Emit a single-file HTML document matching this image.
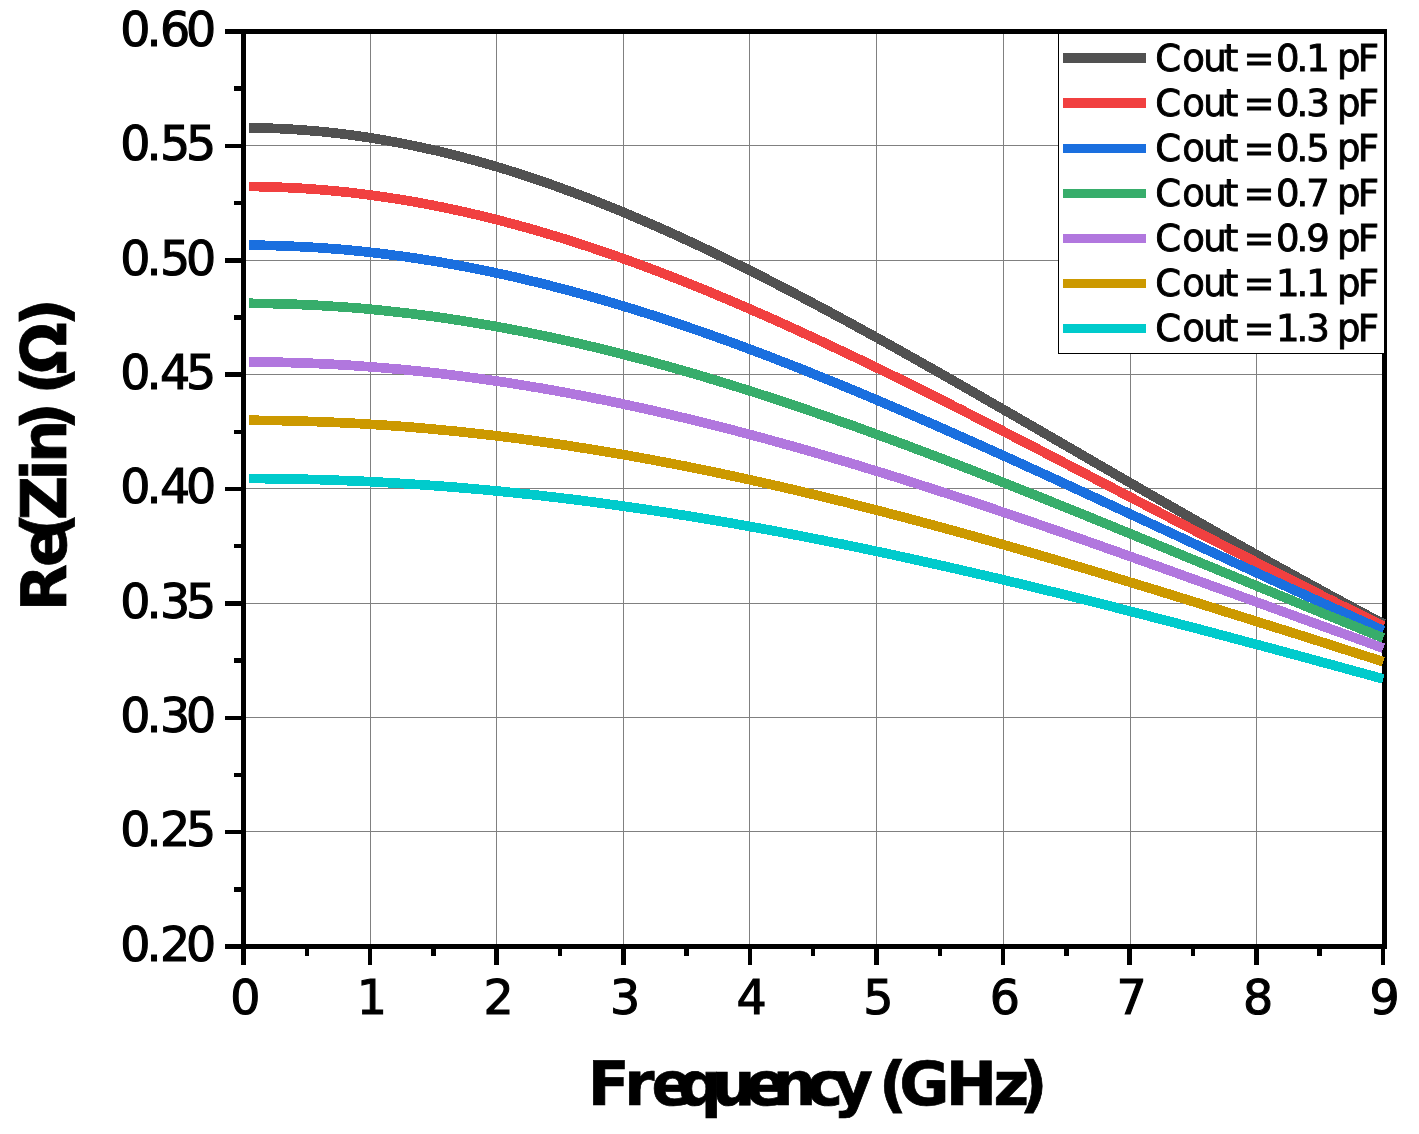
<!DOCTYPE html>
<html lang="en"><head><meta charset="utf-8"><title>Re(Zin) vs Frequency</title>
<style>html,body{margin:0;padding:0;background:#fff}body{width:1419px;height:1134px;overflow:hidden}svg{display:block}text{font-family:"DejaVu Sans","Liberation Sans",sans-serif;fill:#000;stroke:#000;stroke-linejoin:miter}.tk{font-size:47.5px;stroke-width:1.1}.lg{font-size:37.0px;stroke-width:0.9}.lb{font-size:61.2px;font-weight:bold;stroke-width:0.7}</style></head><body>
<svg width="1419" height="1134" viewBox="0 0 1419 1134">
<rect width="1419" height="1134" fill="#fff"/>
<g fill="#808080" shape-rendering="crispEdges">
<rect x="370" y="34" width="1" height="910"/>
<rect x="496" y="34" width="1" height="910"/>
<rect x="623" y="34" width="1" height="910"/>
<rect x="749" y="34" width="1" height="910"/>
<rect x="876" y="34" width="1" height="910"/>
<rect x="1003" y="34" width="1" height="910"/>
<rect x="1130" y="34" width="1" height="910"/>
<rect x="1256" y="34" width="1" height="910"/>
<rect x="246" y="145" width="1136" height="1"/>
<rect x="246" y="260" width="1136" height="1"/>
<rect x="246" y="374" width="1136" height="1"/>
<rect x="246" y="488" width="1136" height="1"/>
<rect x="246" y="603" width="1136" height="1"/>
<rect x="246" y="717" width="1136" height="1"/>
<rect x="246" y="831" width="1136" height="1"/>
</g>
<g fill="#000" shape-rendering="crispEdges">
<rect x="241" y="29" width="1146" height="5"/><rect x="241" y="944" width="1146" height="5"/>
<rect x="241" y="29" width="5" height="920"/><rect x="1382" y="29" width="5" height="920"/>
</g>
<g stroke="#000" stroke-width="4.5" fill="none" shape-rendering="crispEdges">
<path d="M225 31.50H242M234 88.69H242M225 145.88H242M234 203.06H242M225 260.25H242M234 317.44H242M225 374.62H242M234 431.81H242M225 489.00H242M234 546.19H242M225 603.38H242M234 660.56H242M225 717.75H242M234 774.94H242M225 832.12H242M234 889.31H242M225 946.50H242M243.50 948V965M306.80 948V956M370.10 948V965M433.40 948V956M496.70 948V965M560.00 948V956M623.30 948V965M686.60 948V956M749.90 948V965M813.20 948V956M876.50 948V965M939.80 948V956M1003.10 948V965M1066.40 948V956M1129.70 948V965M1193.00 948V956M1256.30 948V965M1319.60 948V956M1382.90 948V965"/>
</g>
<g fill="none" stroke-width="9.7" stroke-linecap="butt" stroke-linejoin="round" shape-rendering="crispEdges">
<polyline stroke="#515151" points="249.0,127.8 255.3,127.9 261.6,128.0 267.9,128.2 274.2,128.4 280.5,128.7 286.8,129.0 293.1,129.4 299.4,129.8 305.7,130.3 312.0,130.8 318.3,131.3 324.6,131.9 330.9,132.6 337.2,133.3 343.5,134.1 349.8,134.9 356.1,135.7 362.4,136.6 368.7,137.6 375.0,138.6 381.3,139.6 387.6,140.7 393.9,141.9 400.2,143.0 406.5,144.3 412.8,145.6 419.1,146.9 425.4,148.3 431.8,149.7 438.1,151.1 444.4,152.6 450.7,154.2 457.0,155.8 463.3,157.4 469.6,159.1 475.9,160.8 482.2,162.6 488.5,164.4 494.8,166.2 501.1,168.1 507.4,170.0 513.7,172.0 520.0,174.0 526.3,176.1 532.6,178.2 538.9,180.3 545.2,182.4 551.5,184.6 557.8,186.9 564.1,189.2 570.4,191.5 576.7,193.8 583.0,196.2 589.3,198.6 595.6,201.1 601.9,203.6 608.2,206.1 614.5,208.6 620.8,211.2 627.1,213.8 633.4,216.5 639.7,219.2 646.0,221.9 652.3,224.6 658.6,227.4 664.9,230.2 671.2,233.0 677.5,235.9 683.8,238.8 690.1,241.7 696.4,244.6 702.7,247.6 709.0,250.6 715.3,253.6 721.6,256.6 727.9,259.7 734.2,262.8 740.5,265.9 746.8,269.0 753.1,272.2 759.4,275.3 765.7,278.5 772.0,281.7 778.3,285.0 784.6,288.2 790.9,291.5 797.2,294.8 803.5,298.1 809.8,301.4 816.1,304.8 822.4,308.1 828.7,311.5 835.0,314.9 841.3,318.3 847.7,321.7 854.0,325.2 860.3,328.6 866.6,332.1 872.9,335.5 879.2,339.0 885.5,342.5 891.8,346.0 898.1,349.5 904.4,353.1 910.7,356.6 917.0,360.1 923.3,363.7 929.6,367.3 935.9,370.8 942.2,374.4 948.5,378.0 954.8,381.6 961.1,385.2 967.4,388.8 973.7,392.4 980.0,396.0 986.3,399.7 992.6,403.3 998.9,406.9 1005.2,410.5 1011.5,414.2 1017.8,417.8 1024.1,421.5 1030.4,425.1 1036.7,428.7 1043.0,432.4 1049.3,436.0 1055.6,439.7 1061.9,443.3 1068.2,447.0 1074.5,450.6 1080.8,454.3 1087.1,457.9 1093.4,461.6 1099.7,465.2 1106.0,468.9 1112.3,472.5 1118.6,476.2 1124.9,479.8 1131.2,483.4 1137.5,487.1 1143.8,490.7 1150.1,494.3 1156.4,497.9 1162.7,501.5 1169.0,505.2 1175.3,508.8 1181.6,512.4 1187.9,516.0 1194.2,519.6 1200.5,523.1 1206.8,526.7 1213.1,530.3 1219.4,533.9 1225.7,537.4 1232.0,541.0 1238.3,544.5 1244.6,548.1 1250.9,551.6 1257.2,555.1 1263.6,558.6 1269.9,562.2 1276.2,565.7 1282.5,569.2 1288.8,572.6 1295.1,576.1 1301.4,579.6 1307.7,583.0 1314.0,586.5 1320.3,589.9 1326.6,593.4 1332.9,596.8 1339.2,600.2 1345.5,603.6 1351.8,607.0 1358.1,610.4 1364.4,613.8 1370.7,617.1 1377.0,620.5 1383.3,623.8"/>
<polyline stroke="#F14040" points="249.0,186.6 255.3,186.6 261.6,186.7 267.9,186.9 274.2,187.1 280.5,187.3 286.8,187.6 293.1,187.9 299.4,188.2 305.7,188.6 312.0,189.1 318.3,189.5 324.6,190.1 330.9,190.6 337.2,191.2 343.5,191.9 349.8,192.5 356.1,193.3 362.4,194.0 368.7,194.8 375.0,195.7 381.3,196.6 387.6,197.5 393.9,198.5 400.2,199.5 406.5,200.5 412.8,201.6 419.1,202.7 425.4,203.9 431.8,205.1 438.1,206.4 444.4,207.6 450.7,209.0 457.0,210.3 463.3,211.7 469.6,213.1 475.9,214.6 482.2,216.1 488.5,217.6 494.8,219.2 501.1,220.8 507.4,222.5 513.7,224.2 520.0,225.9 526.3,227.6 532.6,229.4 538.9,231.2 545.2,233.1 551.5,235.0 557.8,236.9 564.1,238.8 570.4,240.8 576.7,242.8 583.0,244.9 589.3,246.9 595.6,249.1 601.9,251.2 608.2,253.4 614.5,255.5 620.8,257.8 627.1,260.0 633.4,262.3 639.7,264.6 646.0,267.0 652.3,269.3 658.6,271.7 664.9,274.1 671.2,276.6 677.5,279.0 683.8,281.5 690.1,284.0 696.4,286.6 702.7,289.1 709.0,291.7 715.3,294.3 721.6,297.0 727.9,299.6 734.2,302.3 740.5,305.0 746.8,307.7 753.1,310.5 759.4,313.2 765.7,316.0 772.0,318.8 778.3,321.6 784.6,324.5 790.9,327.3 797.2,330.2 803.5,333.1 809.8,336.0 816.1,338.9 822.4,341.8 828.7,344.8 835.0,347.8 841.3,350.8 847.7,353.8 854.0,356.8 860.3,359.8 866.6,362.8 872.9,365.9 879.2,368.9 885.5,372.0 891.8,375.1 898.1,378.2 904.4,381.3 910.7,384.4 917.0,387.6 923.3,390.7 929.6,393.9 935.9,397.0 942.2,400.2 948.5,403.4 954.8,406.6 961.1,409.7 967.4,412.9 973.7,416.2 980.0,419.4 986.3,422.6 992.6,425.8 998.9,429.0 1005.2,432.3 1011.5,435.5 1017.8,438.8 1024.1,442.0 1030.4,445.3 1036.7,448.5 1043.0,451.8 1049.3,455.1 1055.6,458.3 1061.9,461.6 1068.2,464.9 1074.5,468.2 1080.8,471.4 1087.1,474.7 1093.4,478.0 1099.7,481.3 1106.0,484.6 1112.3,487.8 1118.6,491.1 1124.9,494.4 1131.2,497.7 1137.5,501.0 1143.8,504.2 1150.1,507.5 1156.4,510.8 1162.7,514.1 1169.0,517.3 1175.3,520.6 1181.6,523.9 1187.9,527.1 1194.2,530.4 1200.5,533.7 1206.8,536.9 1213.1,540.2 1219.4,543.4 1225.7,546.7 1232.0,549.9 1238.3,553.2 1244.6,556.4 1250.9,559.6 1257.2,562.8 1263.6,566.1 1269.9,569.3 1276.2,572.5 1282.5,575.7 1288.8,578.9 1295.1,582.1 1301.4,585.3 1307.7,588.5 1314.0,591.6 1320.3,594.8 1326.6,598.0 1332.9,601.1 1339.2,604.3 1345.5,607.4 1351.8,610.5 1358.1,613.7 1364.4,616.8 1370.7,619.9 1377.0,623.0 1383.3,626.1"/>
<polyline stroke="#1A6FDF" points="249.0,245.2 255.3,245.2 261.6,245.3 267.9,245.4 274.2,245.6 280.5,245.8 286.8,246.0 293.1,246.3 299.4,246.6 305.7,246.9 312.0,247.3 318.3,247.7 324.6,248.1 330.9,248.6 337.2,249.1 343.5,249.6 349.8,250.2 356.1,250.8 362.4,251.4 368.7,252.1 375.0,252.8 381.3,253.6 387.6,254.4 393.9,255.2 400.2,256.0 406.5,256.9 412.8,257.8 419.1,258.8 425.4,259.8 431.8,260.8 438.1,261.8 444.4,262.9 450.7,264.0 457.0,265.1 463.3,266.3 469.6,267.5 475.9,268.8 482.2,270.0 488.5,271.3 494.8,272.7 501.1,274.0 507.4,275.4 513.7,276.8 520.0,278.3 526.3,279.8 532.6,281.3 538.9,282.8 545.2,284.4 551.5,286.0 557.8,287.6 564.1,289.3 570.4,290.9 576.7,292.7 583.0,294.4 589.3,296.2 595.6,297.9 601.9,299.8 608.2,301.6 614.5,303.5 620.8,305.4 627.1,307.3 633.4,309.2 639.7,311.2 646.0,313.2 652.3,315.2 658.6,317.2 664.9,319.3 671.2,321.4 677.5,323.5 683.8,325.6 690.1,327.8 696.4,330.0 702.7,332.1 709.0,334.4 715.3,336.6 721.6,338.9 727.9,341.1 734.2,343.4 740.5,345.8 746.8,348.1 753.1,350.4 759.4,352.8 765.7,355.2 772.0,357.6 778.3,360.1 784.6,362.5 790.9,365.0 797.2,367.4 803.5,369.9 809.8,372.4 816.1,375.0 822.4,377.5 828.7,380.1 835.0,382.6 841.3,385.2 847.7,387.8 854.0,390.4 860.3,393.1 866.6,395.7 872.9,398.4 879.2,401.0 885.5,403.7 891.8,406.4 898.1,409.1 904.4,411.8 910.7,414.5 917.0,417.3 923.3,420.0 929.6,422.8 935.9,425.5 942.2,428.3 948.5,431.1 954.8,433.9 961.1,436.7 967.4,439.5 973.7,442.3 980.0,445.1 986.3,448.0 992.6,450.8 998.9,453.6 1005.2,456.5 1011.5,459.3 1017.8,462.2 1024.1,465.1 1030.4,468.0 1036.7,470.8 1043.0,473.7 1049.3,476.6 1055.6,479.5 1061.9,482.4 1068.2,485.3 1074.5,488.2 1080.8,491.1 1087.1,494.0 1093.4,496.9 1099.7,499.9 1106.0,502.8 1112.3,505.7 1118.6,508.6 1124.9,511.6 1131.2,514.5 1137.5,517.4 1143.8,520.3 1150.1,523.3 1156.4,526.2 1162.7,529.1 1169.0,532.1 1175.3,535.0 1181.6,537.9 1187.9,540.9 1194.2,543.8 1200.5,546.7 1206.8,549.7 1213.1,552.6 1219.4,555.5 1225.7,558.4 1232.0,561.4 1238.3,564.3 1244.6,567.2 1250.9,570.1 1257.2,573.0 1263.6,576.0 1269.9,578.9 1276.2,581.8 1282.5,584.7 1288.8,587.6 1295.1,590.5 1301.4,593.4 1307.7,596.3 1314.0,599.2 1320.3,602.0 1326.6,604.9 1332.9,607.8 1339.2,610.7 1345.5,613.5 1351.8,616.4 1358.1,619.2 1364.4,622.1 1370.7,624.9 1377.0,627.8 1383.3,630.6"/>
<polyline stroke="#37AD6B" points="249.0,303.3 255.3,303.4 261.6,303.4 267.9,303.5 274.2,303.7 280.5,303.8 286.8,304.0 293.1,304.2 299.4,304.5 305.7,304.8 312.0,305.1 318.3,305.4 324.6,305.8 330.9,306.2 337.2,306.6 343.5,307.0 349.8,307.5 356.1,308.0 362.4,308.5 368.7,309.1 375.0,309.7 381.3,310.3 387.6,311.0 393.9,311.7 400.2,312.4 406.5,313.1 412.8,313.9 419.1,314.7 425.4,315.5 431.8,316.3 438.1,317.2 444.4,318.1 450.7,319.0 457.0,320.0 463.3,321.0 469.6,322.0 475.9,323.0 482.2,324.1 488.5,325.2 494.8,326.3 501.1,327.4 507.4,328.6 513.7,329.8 520.0,331.0 526.3,332.2 532.6,333.5 538.9,334.8 545.2,336.1 551.5,337.4 557.8,338.8 564.1,340.2 570.4,341.6 576.7,343.0 583.0,344.5 589.3,346.0 595.6,347.5 601.9,349.0 608.2,350.6 614.5,352.1 620.8,353.7 627.1,355.4 633.4,357.0 639.7,358.7 646.0,360.3 652.3,362.0 658.6,363.8 664.9,365.5 671.2,367.3 677.5,369.1 683.8,370.9 690.1,372.7 696.4,374.5 702.7,376.4 709.0,378.3 715.3,380.2 721.6,382.1 727.9,384.0 734.2,386.0 740.5,388.0 746.8,389.9 753.1,391.9 759.4,394.0 765.7,396.0 772.0,398.1 778.3,400.1 784.6,402.2 790.9,404.3 797.2,406.4 803.5,408.6 809.8,410.7 816.1,412.9 822.4,415.1 828.7,417.3 835.0,419.5 841.3,421.7 847.7,423.9 854.0,426.1 860.3,428.4 866.6,430.7 872.9,433.0 879.2,435.3 885.5,437.6 891.8,439.9 898.1,442.2 904.4,444.5 910.7,446.9 917.0,449.3 923.3,451.6 929.6,454.0 935.9,456.4 942.2,458.8 948.5,461.2 954.8,463.6 961.1,466.1 967.4,468.5 973.7,470.9 980.0,473.4 986.3,475.9 992.6,478.3 998.9,480.8 1005.2,483.3 1011.5,485.8 1017.8,488.3 1024.1,490.8 1030.4,493.3 1036.7,495.8 1043.0,498.3 1049.3,500.8 1055.6,503.4 1061.9,505.9 1068.2,508.5 1074.5,511.0 1080.8,513.6 1087.1,516.1 1093.4,518.7 1099.7,521.3 1106.0,523.8 1112.3,526.4 1118.6,529.0 1124.9,531.6 1131.2,534.1 1137.5,536.7 1143.8,539.3 1150.1,541.9 1156.4,544.5 1162.7,547.1 1169.0,549.7 1175.3,552.3 1181.6,554.9 1187.9,557.5 1194.2,560.1 1200.5,562.7 1206.8,565.3 1213.1,567.9 1219.4,570.5 1225.7,573.1 1232.0,575.7 1238.3,578.3 1244.6,580.9 1250.9,583.6 1257.2,586.2 1263.6,588.8 1269.9,591.4 1276.2,594.0 1282.5,596.6 1288.8,599.2 1295.1,601.8 1301.4,604.4 1307.7,607.0 1314.0,609.6 1320.3,612.2 1326.6,614.8 1332.9,617.3 1339.2,619.9 1345.5,622.5 1351.8,625.1 1358.1,627.7 1364.4,630.3 1370.7,632.8 1377.0,635.4 1383.3,638.0"/>
<polyline stroke="#B177DE" points="249.0,361.9 255.3,361.9 261.6,362.0 267.9,362.1 274.2,362.2 280.5,362.3 286.8,362.5 293.1,362.7 299.4,362.9 305.7,363.1 312.0,363.3 318.3,363.6 324.6,363.9 330.9,364.2 337.2,364.6 343.5,364.9 349.8,365.3 356.1,365.8 362.4,366.2 368.7,366.7 375.0,367.2 381.3,367.7 387.6,368.2 393.9,368.8 400.2,369.3 406.5,369.9 412.8,370.6 419.1,371.2 425.4,371.9 431.8,372.6 438.1,373.3 444.4,374.1 450.7,374.8 457.0,375.6 463.3,376.4 469.6,377.3 475.9,378.1 482.2,379.0 488.5,379.9 494.8,380.8 501.1,381.7 507.4,382.7 513.7,383.7 520.0,384.7 526.3,385.7 532.6,386.8 538.9,387.8 545.2,388.9 551.5,390.0 557.8,391.2 564.1,392.3 570.4,393.5 576.7,394.7 583.0,395.9 589.3,397.1 595.6,398.4 601.9,399.6 608.2,400.9 614.5,402.2 620.8,403.5 627.1,404.9 633.4,406.3 639.7,407.6 646.0,409.0 652.3,410.4 658.6,411.9 664.9,413.3 671.2,414.8 677.5,416.3 683.8,417.8 690.1,419.3 696.4,420.9 702.7,422.4 709.0,424.0 715.3,425.6 721.6,427.2 727.9,428.8 734.2,430.4 740.5,432.1 746.8,433.8 753.1,435.4 759.4,437.1 765.7,438.8 772.0,440.6 778.3,442.3 784.6,444.1 790.9,445.8 797.2,447.6 803.5,449.4 809.8,451.2 816.1,453.0 822.4,454.9 828.7,456.7 835.0,458.6 841.3,460.5 847.7,462.3 854.0,464.2 860.3,466.1 866.6,468.1 872.9,470.0 879.2,471.9 885.5,473.9 891.8,475.9 898.1,477.8 904.4,479.8 910.7,481.8 917.0,483.8 923.3,485.9 929.6,487.9 935.9,489.9 942.2,492.0 948.5,494.0 954.8,496.1 961.1,498.2 967.4,500.2 973.7,502.3 980.0,504.4 986.3,506.5 992.6,508.6 998.9,510.8 1005.2,512.9 1011.5,515.0 1017.8,517.2 1024.1,519.3 1030.4,521.5 1036.7,523.7 1043.0,525.8 1049.3,528.0 1055.6,530.2 1061.9,532.4 1068.2,534.6 1074.5,536.8 1080.8,539.0 1087.1,541.2 1093.4,543.4 1099.7,545.6 1106.0,547.9 1112.3,550.1 1118.6,552.3 1124.9,554.6 1131.2,556.8 1137.5,559.1 1143.8,561.3 1150.1,563.6 1156.4,565.8 1162.7,568.1 1169.0,570.3 1175.3,572.6 1181.6,574.9 1187.9,577.2 1194.2,579.4 1200.5,581.7 1206.8,584.0 1213.1,586.3 1219.4,588.6 1225.7,590.8 1232.0,593.1 1238.3,595.4 1244.6,597.7 1250.9,600.0 1257.2,602.3 1263.6,604.6 1269.9,606.9 1276.2,609.2 1282.5,611.5 1288.8,613.8 1295.1,616.1 1301.4,618.4 1307.7,620.7 1314.0,623.0 1320.3,625.3 1326.6,627.6 1332.9,629.9 1339.2,632.1 1345.5,634.4 1351.8,636.7 1358.1,639.0 1364.4,641.3 1370.7,643.6 1377.0,645.9 1383.3,648.2"/>
<polyline stroke="#CC9900" points="249.0,420.3 255.3,420.3 261.6,420.4 267.9,420.5 274.2,420.5 280.5,420.6 286.8,420.8 293.1,420.9 299.4,421.1 305.7,421.3 312.0,421.5 318.3,421.7 324.6,421.9 330.9,422.2 337.2,422.5 343.5,422.8 349.8,423.1 356.1,423.4 362.4,423.8 368.7,424.2 375.0,424.6 381.3,425.0 387.6,425.4 393.9,425.9 400.2,426.3 406.5,426.8 412.8,427.3 419.1,427.9 425.4,428.4 431.8,429.0 438.1,429.6 444.4,430.2 450.7,430.8 457.0,431.4 463.3,432.1 469.6,432.8 475.9,433.5 482.2,434.2 488.5,434.9 494.8,435.6 501.1,436.4 507.4,437.2 513.7,438.0 520.0,438.8 526.3,439.7 532.6,440.5 538.9,441.4 545.2,442.3 551.5,443.2 557.8,444.1 564.1,445.0 570.4,446.0 576.7,447.0 583.0,448.0 589.3,449.0 595.6,450.0 601.9,451.0 608.2,452.1 614.5,453.1 620.8,454.2 627.1,455.3 633.4,456.5 639.7,457.6 646.0,458.7 652.3,459.9 658.6,461.1 664.9,462.3 671.2,463.5 677.5,464.7 683.8,465.9 690.1,467.2 696.4,468.5 702.7,469.7 709.0,471.0 715.3,472.3 721.6,473.7 727.9,475.0 734.2,476.4 740.5,477.7 746.8,479.1 753.1,480.5 759.4,481.9 765.7,483.3 772.0,484.7 778.3,486.2 784.6,487.6 790.9,489.1 797.2,490.6 803.5,492.1 809.8,493.6 816.1,495.1 822.4,496.6 828.7,498.1 835.0,499.7 841.3,501.2 847.7,502.8 854.0,504.4 860.3,506.0 866.6,507.6 872.9,509.2 879.2,510.8 885.5,512.5 891.8,514.1 898.1,515.7 904.4,517.4 910.7,519.1 917.0,520.8 923.3,522.5 929.6,524.2 935.9,525.9 942.2,527.6 948.5,529.3 954.8,531.0 961.1,532.8 967.4,534.5 973.7,536.3 980.0,538.1 986.3,539.8 992.6,541.6 998.9,543.4 1005.2,545.2 1011.5,547.0 1017.8,548.8 1024.1,550.7 1030.4,552.5 1036.7,554.3 1043.0,556.2 1049.3,558.0 1055.6,559.9 1061.9,561.7 1068.2,563.6 1074.5,565.5 1080.8,567.3 1087.1,569.2 1093.4,571.1 1099.7,573.0 1106.0,574.9 1112.3,576.8 1118.6,578.7 1124.9,580.6 1131.2,582.5 1137.5,584.5 1143.8,586.4 1150.1,588.3 1156.4,590.2 1162.7,592.2 1169.0,594.1 1175.3,596.1 1181.6,598.0 1187.9,600.0 1194.2,601.9 1200.5,603.9 1206.8,605.9 1213.1,607.8 1219.4,609.8 1225.7,611.8 1232.0,613.8 1238.3,615.7 1244.6,617.7 1250.9,619.7 1257.2,621.7 1263.6,623.7 1269.9,625.7 1276.2,627.7 1282.5,629.6 1288.8,631.6 1295.1,633.6 1301.4,635.6 1307.7,637.6 1314.0,639.6 1320.3,641.6 1326.6,643.6 1332.9,645.6 1339.2,647.7 1345.5,649.7 1351.8,651.7 1358.1,653.7 1364.4,655.7 1370.7,657.7 1377.0,659.7 1383.3,661.7"/>
<polyline stroke="#00CBCC" points="249.0,478.5 255.3,478.6 261.6,478.6 267.9,478.7 274.2,478.7 280.5,478.8 286.8,478.9 293.1,479.0 299.4,479.2 305.7,479.3 312.0,479.5 318.3,479.6 324.6,479.8 330.9,480.0 337.2,480.3 343.5,480.5 349.8,480.8 356.1,481.0 362.4,481.3 368.7,481.6 375.0,481.9 381.3,482.3 387.6,482.6 393.9,483.0 400.2,483.4 406.5,483.8 412.8,484.2 419.1,484.6 425.4,485.0 431.8,485.5 438.1,485.9 444.4,486.4 450.7,486.9 457.0,487.4 463.3,488.0 469.6,488.5 475.9,489.1 482.2,489.6 488.5,490.2 494.8,490.8 501.1,491.4 507.4,492.1 513.7,492.7 520.0,493.4 526.3,494.0 532.6,494.7 538.9,495.4 545.2,496.2 551.5,496.9 557.8,497.6 564.1,498.4 570.4,499.1 576.7,499.9 583.0,500.7 589.3,501.5 595.6,502.4 601.9,503.2 608.2,504.1 614.5,504.9 620.8,505.8 627.1,506.7 633.4,507.6 639.7,508.5 646.0,509.4 652.3,510.4 658.6,511.3 664.9,512.3 671.2,513.3 677.5,514.3 683.8,515.3 690.1,516.3 696.4,517.3 702.7,518.3 709.0,519.4 715.3,520.5 721.6,521.5 727.9,522.6 734.2,523.7 740.5,524.8 746.8,525.9 753.1,527.1 759.4,528.2 765.7,529.4 772.0,530.5 778.3,531.7 784.6,532.9 790.9,534.1 797.2,535.3 803.5,536.5 809.8,537.8 816.1,539.0 822.4,540.2 828.7,541.5 835.0,542.8 841.3,544.0 847.7,545.3 854.0,546.6 860.3,547.9 866.6,549.2 872.9,550.6 879.2,551.9 885.5,553.2 891.8,554.6 898.1,556.0 904.4,557.3 910.7,558.7 917.0,560.1 923.3,561.5 929.6,562.9 935.9,564.3 942.2,565.7 948.5,567.1 954.8,568.6 961.1,570.0 967.4,571.5 973.7,572.9 980.0,574.4 986.3,575.9 992.6,577.3 998.9,578.8 1005.2,580.3 1011.5,581.8 1017.8,583.3 1024.1,584.9 1030.4,586.4 1036.7,587.9 1043.0,589.4 1049.3,591.0 1055.6,592.5 1061.9,594.1 1068.2,595.6 1074.5,597.2 1080.8,598.8 1087.1,600.3 1093.4,601.9 1099.7,603.5 1106.0,605.1 1112.3,606.7 1118.6,608.3 1124.9,609.9 1131.2,611.5 1137.5,613.1 1143.8,614.8 1150.1,616.4 1156.4,618.0 1162.7,619.6 1169.0,621.3 1175.3,622.9 1181.6,624.6 1187.9,626.2 1194.2,627.9 1200.5,629.5 1206.8,631.2 1213.1,632.9 1219.4,634.5 1225.7,636.2 1232.0,637.9 1238.3,639.6 1244.6,641.3 1250.9,642.9 1257.2,644.6 1263.6,646.3 1269.9,648.0 1276.2,649.7 1282.5,651.4 1288.8,653.1 1295.1,654.8 1301.4,656.5 1307.7,658.2 1314.0,660.0 1320.3,661.7 1326.6,663.4 1332.9,665.1 1339.2,666.8 1345.5,668.6 1351.8,670.3 1358.1,672.0 1364.4,673.7 1370.7,675.5 1377.0,677.2 1383.3,678.9"/>
</g>
<rect x="1058.5" y="33.5" width="326" height="320" fill="#fff" stroke="#000" stroke-width="1"/>
<g stroke-width="9.3" fill="none" shape-rendering="crispEdges">
<path stroke="#515151" d="M1063 58.0H1146"/>
<path stroke="#F14040" d="M1063 103.1H1146"/>
<path stroke="#1A6FDF" d="M1063 148.2H1146"/>
<path stroke="#37AD6B" d="M1063 193.3H1146"/>
<path stroke="#B177DE" d="M1063 238.4H1146"/>
<path stroke="#CC9900" d="M1063 283.5H1146"/>
<path stroke="#00CBCC" d="M1063 328.6H1146"/>
</g>
<text class="lg" y="70.6" x="1155.37 1182.26 1203.21 1223.76 1235.76 1243.53 1267.53 1275.91 1296.39 1306.29 1328.29 1336.99 1357.82" xml:space="preserve">Cout = 0.1 pF</text>
<text class="lg" y="115.6" x="1155.37 1182.26 1203.21 1223.76 1235.76 1243.53 1267.53 1275.91 1296.39 1306.29 1328.29 1336.99 1357.82" xml:space="preserve">Cout = 0.3 pF</text>
<text class="lg" y="160.6" x="1155.37 1182.26 1203.21 1223.76 1235.76 1243.53 1267.53 1275.91 1296.39 1306.29 1328.29 1336.99 1357.82" xml:space="preserve">Cout = 0.5 pF</text>
<text class="lg" y="205.6" x="1155.37 1182.26 1203.21 1223.76 1235.76 1243.53 1267.53 1275.91 1296.39 1306.29 1328.29 1336.99 1357.82" xml:space="preserve">Cout = 0.7 pF</text>
<text class="lg" y="250.6" x="1155.37 1182.26 1203.21 1223.76 1235.76 1243.53 1267.53 1275.91 1296.39 1306.29 1328.29 1336.99 1357.82" xml:space="preserve">Cout = 0.9 pF</text>
<text class="lg" y="295.6" x="1155.37 1182.26 1203.21 1223.76 1235.76 1243.53 1267.53 1275.91 1296.39 1306.29 1328.29 1336.99 1357.82" xml:space="preserve">Cout = 1.1 pF</text>
<text class="lg" y="340.6" x="1155.37 1182.26 1203.21 1223.76 1235.76 1243.53 1267.53 1275.91 1296.39 1306.29 1328.29 1336.99 1357.82" xml:space="preserve">Cout = 1.3 pF</text>
<text class="tk" y="45.8" x="120.2 146.4 160.0 186.0">0.60</text>
<text class="tk" y="160.2" x="120.2 146.4 160.0 186.0">0.55</text>
<text class="tk" y="274.6" x="120.2 146.4 160.0 186.0">0.50</text>
<text class="tk" y="388.9" x="120.2 146.4 160.0 186.0">0.45</text>
<text class="tk" y="503.3" x="120.2 146.4 160.0 186.0">0.40</text>
<text class="tk" y="617.7" x="120.2 146.4 160.0 186.0">0.35</text>
<text class="tk" y="732.0" x="120.2 146.4 160.0 186.0">0.30</text>
<text class="tk" y="846.4" x="120.2 146.4 160.0 186.0">0.25</text>
<text class="tk" y="960.8" x="120.2 146.4 160.0 186.0">0.20</text>
<text class="tk" y="1013.6" x="230.2">0</text>
<text class="tk" y="1013.6" x="356.8">1</text>
<text class="tk" y="1013.6" x="483.4">2</text>
<text class="tk" y="1013.6" x="610.0">3</text>
<text class="tk" y="1013.6" x="736.6">4</text>
<text class="tk" y="1013.6" x="863.2">5</text>
<text class="tk" y="1013.6" x="989.8">6</text>
<text class="tk" y="1013.6" x="1116.4">7</text>
<text class="tk" y="1013.6" x="1243.0">8</text>
<text class="tk" y="1013.6" x="1369.6">9</text>
<text class="lb" y="1104.5" x="587.73 624.21 651.62 677.88 711.72 745.42 772.76 806.77 832.96 860.00 878.89 899.20 945.83 993.50 1019.55" xml:space="preserve">Frequency (GHz)</text>
<text class="lb" transform="translate(65.8,0) rotate(-90) scale(1,1.017)" y="0" x="-611.17 -567.08 -540.42 -520.20 -480.49 -463.09 -430.25 -410.00 -394.61 -374.29 -326.25" xml:space="preserve">Re(Zin) (Ω)</text>
</svg></body></html>
